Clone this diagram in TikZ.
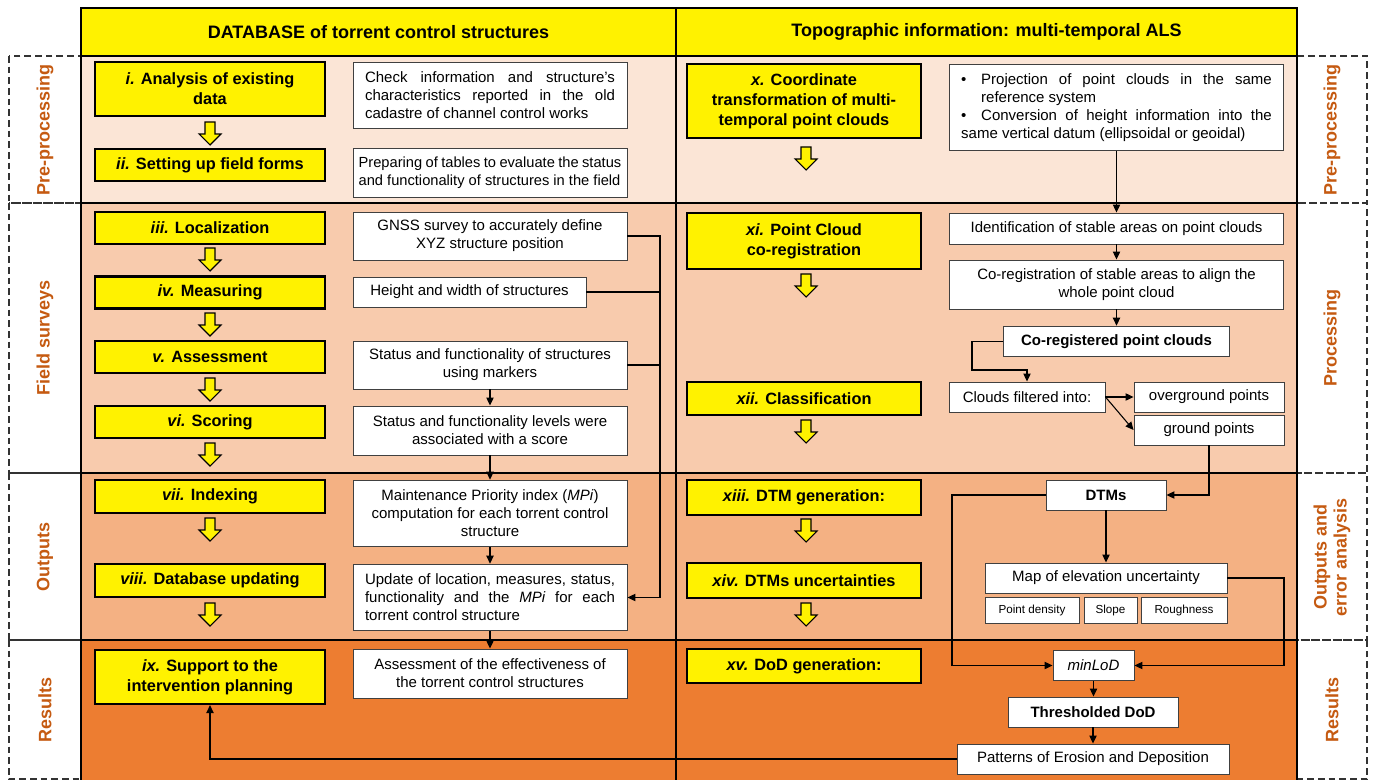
\documentclass[tikz,border=0pt]{standalone}
\usepackage{fontspec}
\setmainfont{Liberation Sans}
\usepackage{tikz}
\usetikzlibrary{arrows.meta,positioning}
\definecolor{stepyellow}{HTML}{FFF200}
\definecolor{bandpre}{HTML}{FBE5D6}
\definecolor{bandfield}{HTML}{F8CBAD}
\definecolor{bandout}{HTML}{F4B183}
\definecolor{bandres}{HTML}{ED7D31}
\definecolor{lblorange}{HTML}{C55A11}

\begin{document}
\begin{tikzpicture}[x=0.75pt,y=-0.75pt,
      hdr/.style={draw=black,line width=1pt,fill=stepyellow,minimum height=36pt,font=\bfseries\fontsize{13.5}{16}\selectfont},
      stepbox/.style={draw=black,line width=1.6pt,fill=stepyellow,align=center,inner sep=2pt,font=\bfseries\fontsize{12.25}{15}\selectfont},
      infobox/.style={draw=black!75,line width=0.7pt,fill=white,align=center,inner xsep=6pt,inner ysep=2pt,font=\fontsize{11.25}{13.5}\selectfont},
      smallbox/.style={infobox,font=\fontsize{8.75}{10.5}\selectfont},
      sidebox/.style={draw=black!80,line width=0.8pt,dash pattern=on 5pt off 3pt},
      sidelbl/.style={rotate=90,text=lblorange,align=center,font=\bfseries\fontsize{13.5}{15}\selectfont},
      flow/.style={draw=black,line width=0.8pt,-{Triangle[length=6pt,width=5.5pt]}},
      ydown/.pic={\draw[fill=stepyellow,line width=0.8pt] (-5,0) -- (5,0) -- (5,12) -- (11,12) -- (0,23) -- (-11,12) -- (-5,12) -- cycle;}
    ]
    \useasboundingbox (0,0) rectangle (1376,780);

    % bands
    \fill[bandpre]   (81,56)  rectangle (1297,203);
    \fill[bandfield] (81,203) rectangle (1297,473);
    \fill[bandout]   (81,473) rectangle (1297,640);
    \fill[bandres]   (81,640) rectangle (1297,780);

    \foreach \ya/\yb in {56/203,203/473,473/640,640/779} {
      \draw[sidebox] (9,\ya) rectangle (81,\yb);
      \draw[sidebox] (1297,\ya) rectangle (1367,\yb);
    }
    \foreach \yy in {203,473,640}
      \draw[line width=0.9pt] (81,\yy) -- (1297,\yy);
    \draw[line width=0.9pt] (81,56) -- (81,780) (676,56) -- (676,780) (1297,56) -- (1297,780);

    \node[hdr,minimum width=446.25pt] (dbhdr)   at (378.5,32) {DATABASE of torrent control structures};
    \node[hdr,minimum width=465.75pt] (topohdr) at (986.5,32) {Topographic information: multi-temporal ALS};

    \node[sidelbl] (lblpre)   at (45,130)   {Pre-processing};
    \node[sidelbl] (lblfield) at (45,338)   {Field surveys};
    \node[sidelbl] (lblout)   at (45,557)   {Outputs};
    \node[sidelbl] (lblres)   at (45,710)   {Results};
    \node[sidelbl] (rlblpre)  at (1332,130) {Pre-processing};
    \node[sidelbl] (rlblproc) at (1332,338) {Processing};
    \node[sidelbl] (rlblout)  at (1332,557) {Outputs and\\error analysis};
    \node[sidelbl] (rlblres)  at (1332,710) {Results};

    % database column
    \node[stepbox,minimum width=173pt,minimum height=40.5pt] (analysis)   at (210,89)    {\textit{i.} Analysis of existing\\data};
    \node[stepbox,minimum width=173pt,minimum height=24pt]   (fieldforms) at (210,165)   {\textit{ii.} Setting up field forms};
    \node[stepbox,minimum width=173pt,minimum height=24pt]   (localiz)    at (210,228)   {\textit{iii.} Localization};
    \node[stepbox,minimum width=173pt,minimum height=24pt]   (measuring)  at (210,292.5) {\textit{iv.} Measuring};
    \node[stepbox,minimum width=173pt,minimum height=24pt]   (assessment) at (210,357)   {\textit{v.} Assessment};
    \node[stepbox,minimum width=173pt,minimum height=24pt]   (scoring)    at (210,422)   {\textit{vi.} Scoring};
    \node[stepbox,minimum width=173pt,minimum height=24.5pt] (indexing)   at (210,496.5) {\textit{vii.} Indexing};
    \node[stepbox,minimum width=173pt,minimum height=24.5pt] (dbupdate)   at (210,580.5) {\textit{viii.} Database updating};
    \node[stepbox,minimum width=173pt,minimum height=40.5pt] (support)    at (210,677)   {\textit{ix.} Support to the\\intervention planning};

    \node[infobox,text width=187.5pt,inner xsep=9pt,align=justify,minimum height=49.5pt] (checkinfo) at (490,95)
      {Check information and structure's\linebreak characteristics reported in the old\linebreak cadastre of channel control works};
    \node[infobox,text width=197pt,inner xsep=4.25pt,align=justify,minimum height=36.75pt,font=\fontsize{11}{13.5}\selectfont] (tables) at (490,172.5)
      {Preparing of tables to evaluate the status\linebreak and functionality of structures in the field};
    \node[infobox,minimum width=205.5pt,minimum height=36pt]    (gnss)    at (490,236)   {GNSS survey to accurately define\\XYZ structure position};
    \node[infobox,minimum width=174.75pt,minimum height=22.5pt] (heightw) at (469.5,292) {Height and width of structures};
    \node[infobox,minimum width=205.5pt,minimum height=36pt]    (markers) at (490,365)   {Status and functionality of structures\\using markers};
    \node[infobox,minimum width=205.5pt,minimum height=36.75pt] (levels)  at (490,430.5) {Status and functionality levels were\\associated with a score};
    \node[infobox,minimum width=205.5pt,minimum height=50pt]    (mpi)     at (490,513.5) {Maintenance Priority index (\textit{MPi})\\computation for each torrent control\\structure};
    \node[infobox,text width=187.5pt,inner xsep=9pt,align=justify,minimum height=50pt] (update) at (490,597.5)
      {Update of location, measures, status,\linebreak functionality and the \textit{MPi} for each\linebreak torrent control structure};
    \node[infobox,minimum width=205.5pt,minimum height=36.75pt] (effect)  at (490,673.5) {Assessment of the effectiveness of\\the torrent control structures};

    \foreach \yy in {122,248,313,378,443,518,603}
      \pic at (210,\yy) {ydown};

    \coordinate (collect) at (660,0);
    \draw[line width=0.8pt] (heightw.east) -- (heightw.east -| collect);
    \draw[line width=0.8pt] (markers.east) -- (markers.east -| collect);
    \draw[flow] (gnss.east) -| (collect |- update.east) -- (update.east);
    \draw[flow] (markers) -- (levels);
    \draw[flow] (levels) -- (mpi);
    \draw[flow] (mpi) -- (update);
    \draw[flow] (update) -- (effect);

    % topographic column
    \node[stepbox,minimum width=175pt,minimum height=55pt] (coordtr) at (804,101)   {\textit{x.} Coordinate\\transformation of multi-\\temporal point clouds};
    \node[stepbox,minimum width=175pt,minimum height=42pt] (coreg)   at (804,241)   {\textit{xi.} Point Cloud\\co-registration};
    \node[stepbox,minimum width=175pt,minimum height=25pt] (classif) at (804,398.5) {\textit{xii.} Classification};
    \node[stepbox,minimum width=175pt,minimum height=26pt] (dtmgen)  at (804,497.5) {\textit{xiii.} DTM generation:};
    \node[stepbox,minimum width=175pt,minimum height=26pt] (dtmunc)  at (804,580.5) {\textit{xiv.} DTMs uncertainties};
    \node[stepbox,minimum width=175pt,minimum height=25.5pt] (dodgen) at (804,666)   {\textit{xv.} DoD generation:};

    \node[infobox,text width=233pt,inner xsep=9pt,align=justify,minimum height=65pt] (projection) at (1116.5,107.5)
      {\hangindent=15pt\hangafter=1\makebox[15pt][l]{\textbullet}Projection of point clouds in the same\linebreak reference system\par
       \hangindent=15pt\hangafter=1\makebox[15pt][l]{\textbullet}Conversion of height information into the\linebreak same vertical datum (ellipsoidal or geoidal)};
    \node[infobox,minimum width=251pt,minimum height=23.25pt] (stable)   at (1116.5,228.5) {Identification of stable areas on point clouds};
    \node[infobox,minimum width=251pt,minimum height=36.75pt] (align)    at (1116.5,284.5) {Co-registration of stable areas to align the\\whole point cloud};
    \node[infobox,minimum width=170pt,minimum height=23pt,font=\bfseries\fontsize{11.25}{13.5}\selectfont] (coregpc) at (1116.5,341.5) {Co-registered point clouds};
    \node[infobox,minimum width=117pt,minimum height=22.5pt] (filtered)   at (1027,397)   {Clouds filtered into:};
    \node[infobox,minimum width=112.5pt,minimum height=22.5pt] (overground) at (1209,397) {overground points};
    \node[infobox,minimum width=112.5pt,minimum height=22.5pt] (ground)     at (1209,430) {ground points};
    \node[infobox,minimum width=90pt,minimum height=22.5pt,font=\bfseries\fontsize{11.25}{13.5}\selectfont] (dtms) at (1106,495) {DTMs};
    \node[infobox,minimum width=181.5pt,minimum height=22.5pt] (mapunc) at (1106,578) {Map of elevation uncertainty};
    \node[smallbox,minimum width=70.5pt,minimum height=20pt] (ptdens) at (1032,610.5)   {Point density};
    \node[smallbox,minimum width=39.75pt,minimum height=20pt] (slope) at (1110.5,610.5) {Slope};
    \node[smallbox,minimum width=64.5pt,minimum height=20pt] (rough)  at (1184,610.5)   {Roughness};
    \node[infobox,minimum width=60.75pt,minimum height=23pt,font=\itshape\fontsize{11.25}{13.5}\selectfont] (minlod) at (1093.5,665.5) {minLoD};
    \node[infobox,minimum width=127.5pt,minimum height=22.5pt,font=\bfseries\fontsize{11.25}{13.5}\selectfont] (thrdod) at (1093,712) {Thresholded DoD};
    \node[infobox,minimum width=204pt,minimum height=22.5pt] (patterns) at (1093,759) {Patterns of Erosion and Deposition};

    \foreach \yy in {147,274,420,519,603}
      \pic at (806,\yy) {ydown};

    \coordinate (bendpc) at (972,370);
    \coordinate (lodleft) at (952,580);
    \coordinate (lodright) at (1284,620);
    \draw[flow] (projection) -- (stable);
    \draw[flow] (stable) -- (align);
    \draw[flow] (align) -- (coregpc);
    \draw[flow] (coregpc.west) -| (bendpc) -| (filtered.north);
    \draw[flow] (filtered.east) -- (overground.west);
    \draw[flow] (filtered.east) -- (ground.west);
    \draw[flow] (ground.south) |- (dtms.east);
    \draw[flow] (dtms) -- (mapunc);
    \draw[flow] (dtms.west) -| (lodleft) |- (minlod.west);
    \draw[flow] (mapunc.east) -| (lodright) |- (minlod.east);
    \draw[flow] (minlod.south) -- (minlod.south |- thrdod.north);
    \draw[flow] (thrdod) -- (patterns);
    \draw[flow] (patterns.west) -| (support.south);
  \end{tikzpicture}
\end{document}
